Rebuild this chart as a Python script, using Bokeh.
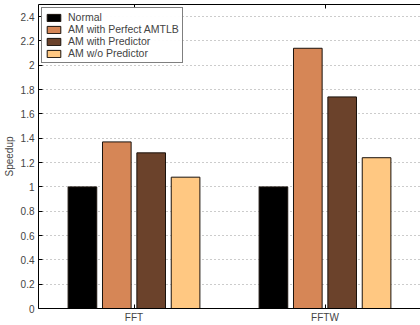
from bokeh.plotting import figure
from bokeh.models import ColumnDataSource, Range1d, FixedTicker, LinearAxis, Legend, LegendItem
from bokeh.transform import dodge
from bokeh.embed import file_html
from bokeh.resources import INLINE

benchmarks = ["FFT", "FFTW"]
series = ["Normal", "AM with Perfect AMTLB", "AM with Predictor", "AM w/o Predictor"]
normal = [1.0, 1.0]
perfect = [1.37, 2.14]
predictor = [1.28, 1.74]
wo_predictor = [1.08, 1.24]
colors = ["#000000", "#D68656", "#6B422B", "#FFC882"]
y_ticks = [0, 0.2, 0.4, 0.6, 0.8, 1, 1.2, 1.4, 1.6, 1.8, 2, 2.2, 2.4]
y_tick_labels = ["0", "0.2", "0.4", "0.6", "0.8", "1", "1.2", "1.4", "1.6", "1.8", "2", "2.2", "2.4"]

FONT = "Liberation Sans"

centres = [i + 0.5 for i in range(len(benchmarks))]
src = ColumnDataSource(dict(pos=centres, s0=normal, s1=perfect, s2=predictor, s3=wo_predictor))

p = figure(width=420, height=325, x_range=Range1d(0, len(benchmarks)),
           y_range=Range1d(0, 2.5), output_backend="svg", toolbar_location=None,
           min_border_left=37, min_border_right=0, min_border_top=4, min_border_bottom=16)

p.outline_line_color = None
p.xgrid.grid_line_color = None
p.ygrid.grid_line_color = "#999999"
p.ygrid.grid_line_dash = "1 3"
p.ygrid.grid_line_width = 1
p.ygrid.ticker = FixedTicker(ticks=y_ticks[1:])

offsets = [-0.27, -0.09, 0.09, 0.27]
renderers = []
for i, (name, col) in enumerate(zip(series, colors)):
    r = p.vbar(x=dodge("pos", offsets[i]), top="s%d" % i, width=0.15,
               source=src, fill_color=col, line_color="#1a120c", line_width=1)
    renderers.append(r)

legend = Legend(items=[LegendItem(label=n, renderers=[r]) for n, r in zip(series, renderers)],
                location="top_left")
legend.label_text_font = FONT
legend.label_text_font_size = "10.5px"
legend.glyph_width = 17
legend.glyph_height = 9
legend.label_height = 9
legend.label_standoff = 6
legend.spacing = 0
legend.padding = 3
legend.margin = 3
legend.border_line_color = "black"
legend.border_line_width = 1
p.add_layout(legend)

ya = p.yaxis[0]
ya.ticker = FixedTicker(ticks=y_ticks)
ya.major_label_overrides = {t: l for t, l in zip(y_ticks, y_tick_labels)}
ya.major_tick_in = 4
ya.major_tick_out = 0
ya.minor_tick_line_color = None
ya.major_label_standoff = 4
ya.axis_label = "Speedup"
ya.axis_label_text_font = FONT
ya.axis_label_text_font_size = "10px"
ya.axis_label_text_font_style = "normal"
ya.axis_label_standoff = 3
ya.major_label_text_font = FONT
ya.major_label_text_font_size = "10px"
ya.axis_line_color = "black"
ya.major_tick_line_color = "black"

xa = p.xaxis[0]
xa.ticker = FixedTicker(ticks=centres)
xa.major_label_overrides = {c: b for c, b in zip(centres, benchmarks)}
xa.minor_tick_line_color = None
xa.major_tick_in = 4
xa.major_tick_out = 0
xa.major_label_standoff = 3
xa.major_label_text_font = FONT
xa.major_label_text_font_size = "10px"
xa.axis_line_color = "black"

top = LinearAxis(ticker=FixedTicker(ticks=centres),
                 major_label_overrides={c: "" for c in centres},
                 major_label_text_font_size="1px",
                 major_tick_in=4, major_tick_out=0, minor_tick_line_color=None,
                 major_label_standoff=0, axis_line_color="black")
p.add_layout(top, "above")

open("out.html", "w").write(file_html(p, INLINE))
